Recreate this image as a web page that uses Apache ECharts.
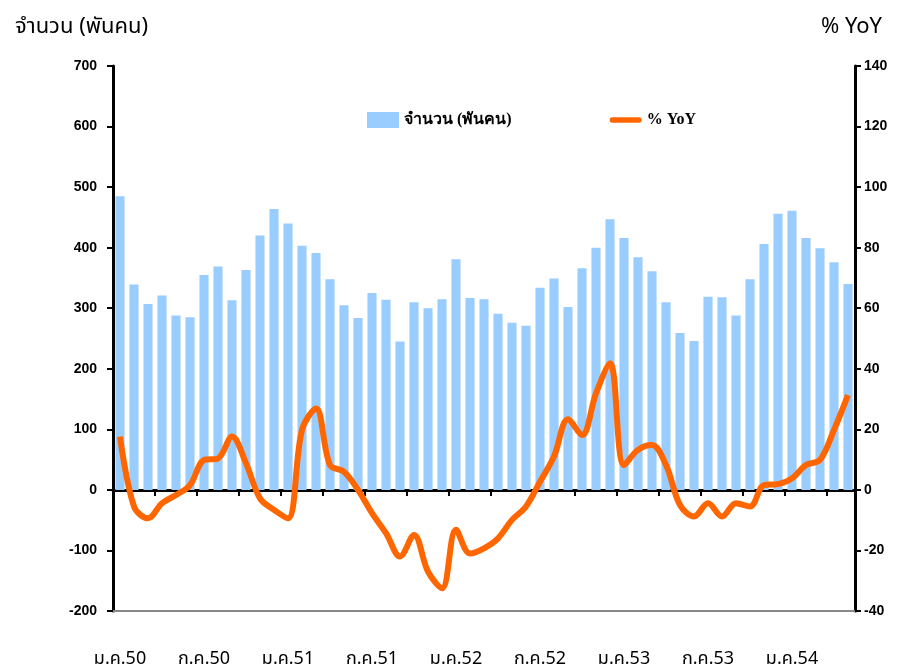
<!DOCTYPE html>
<html>
<head>
<meta charset="utf-8">
<script src="https://cdn.jsdelivr.net/npm/echarts@6/dist/echarts.min.js"></script>
<style>
  html, body { margin: 0; padding: 0; background: #fff; }
  #chart { width: 909px; height: 672px; }
</style>
</head>
<body>
<div id="chart"></div>
<script>
// เดือน / ปี
const monthNames = ["ม.ค.", "ก.พ.", "มี.ค.", "เม.ย.", "พ.ค.", "มิ.ย.", "ก.ค.", "ส.ค.", "ก.ย.", "ต.ค.", "พ.ย.", "ธ.ค."];
const years = ["50", "51", "52", "53", "54"];
const monthCount = 53; // ม.ค.50 - พ.ค.54

// จำนวน (พันคน)
const visitors = [
  485, 339, 307, 321, 288, 285, 355, 369, 313, 363, 420, 464,
  440, 403, 391, 348, 305, 284, 325, 314, 245, 310, 300, 315,
  381, 317, 315, 291, 276, 271, 334, 349, 302, 366, 400, 447,
  416, 384, 361, 310, 259, 246, 319, 318, 288, 348, 406, 456,
  461, 416, 399, 376, 340
];

// % YoY
const yoy = [
  17.6, -5.5, -9.4, -4.4, -1.7, 1.6, 9.9, 10.4, 17.6, 8.8, -2.8, -6.6,
  -9.4, 19.8, 26.9, 8.2, 6.0, 0.0, -7.7, -14.3, -22.0, -14.9, -27.0, -32.5,
  -13.2, -21.0, -19.3, -16.0, -9.9, -5.5, 2.7, 11.0, 23.3, 18.1, 31.9, 41.8,
  8.2, 13.2, 14.8, 8.2, -5.0, -8.8, -4.4, -8.8, -4.4, -5.5, 1.6, 1.9,
  3.8, 8.2, 9.9, 19.8, 31.3
];

const categories = [];
for (let i = 0; i < monthCount; i++) {
  categories.push(monthNames[i % 12] + years[Math.floor(i / 12)]);
}

const thaiFont = '"Noto Sans Thai", "Noto Sans", "DejaVu Sans", sans-serif';
const numFont = '"Liberation Sans", Arial, sans-serif';

const chart = echarts.init(document.getElementById("chart"));
const option = {
  animation: false,
  backgroundColor: "#fff",
  title: [
    {
      text: "จำนวน (พันคน)",
      left: 10, top: 13,
      textStyle: { fontFamily: thaiFont, fontSize: 22, fontWeight: "normal", color: "#000" }
    },
    {
      text: "% YoY",
      right: 22, top: 13,
      textStyle: { fontFamily: thaiFont, fontSize: 22, fontWeight: "normal", color: "#000" }
    }
  ],
  legend: {
    left: 362, top: 107,
    itemGap: 98,
    itemWidth: 32, itemHeight: 16,
    symbolKeepAspect: true,
    textStyle: { fontFamily: '"Liberation Serif", "DejaVu Serif", serif', fontSize: 16, fontWeight: "bold", color: "#000" },
    data: [
      { name: "จำนวน (พันคน)", icon: "rect" },
      { name: "% YoY", icon: "path://M3,0 L33,0 A3,3 0 0 1 33,6 L3,6 A3,3 0 0 1 3,0 Z" }
    ]
  },
  grid: { left: 113, right: 54, top: 66, bottom: 61 },
  xAxis: [
    {
      type: "category",
      data: categories,
      boundaryGap: true,
      axisLine: { onZero: true, lineStyle: { color: "#000", width: 3 } },
      axisTick: { show: true, interval: 2, length: 6, lineStyle: { color: "#000", width: 2 } },
      axisLabel: { show: false },
      splitLine: { show: false }
    },
    {
      type: "category",
      data: categories,
      position: "bottom",
      boundaryGap: true,
      axisLine: { onZero: false, lineStyle: { color: "#888", width: 2 } },
      axisTick: { show: false },
      axisLabel: {
        interval: 5,
        margin: 40,
        fontFamily: thaiFont,
        fontSize: 18,
        color: "#000"
      },
      splitLine: { show: false }
    }
  ],
  yAxis: [
    {
      type: "value",
      min: -200, max: 700, interval: 100,
      axisLine: { show: true, onZero: false, lineStyle: { color: "#000", width: 3 } },
      axisTick: { show: true, length: 6, lineStyle: { color: "#000", width: 2 } },
      axisLabel: { fontFamily: numFont, fontSize: 14, fontWeight: "bold", color: "#000", margin: 16 },
      splitLine: { show: false }
    },
    {
      type: "value",
      position: "right",
      min: -40, max: 140, interval: 20,
      axisLine: { show: true, onZero: false, lineStyle: { color: "#000", width: 3 } },
      axisTick: { show: true, length: 6, lineStyle: { color: "#000", width: 2 } },
      axisLabel: { fontFamily: numFont, fontSize: 14, fontWeight: "bold", color: "#000", margin: 9 },
      splitLine: { show: false }
    }
  ],
  series: [
    {
      name: "จำนวน (พันคน)",
      type: "bar",
      xAxisIndex: 0,
      yAxisIndex: 0,
      data: visitors,
      barCategoryGap: "35%",
      itemStyle: { color: "#99CCFF" },
      z: 1
    },
    {
      name: "% YoY",
      type: "line",
      xAxisIndex: 0,
      yAxisIndex: 1,
      data: yoy,
      smooth: 0.35,
      symbol: "none",
      lineStyle: { color: "#FF6600", width: 6 },
      itemStyle: { color: "#FF6600" },
      z: 3
    }
  ]
};
chart.setOption(option);
</script>
</body>
</html>
